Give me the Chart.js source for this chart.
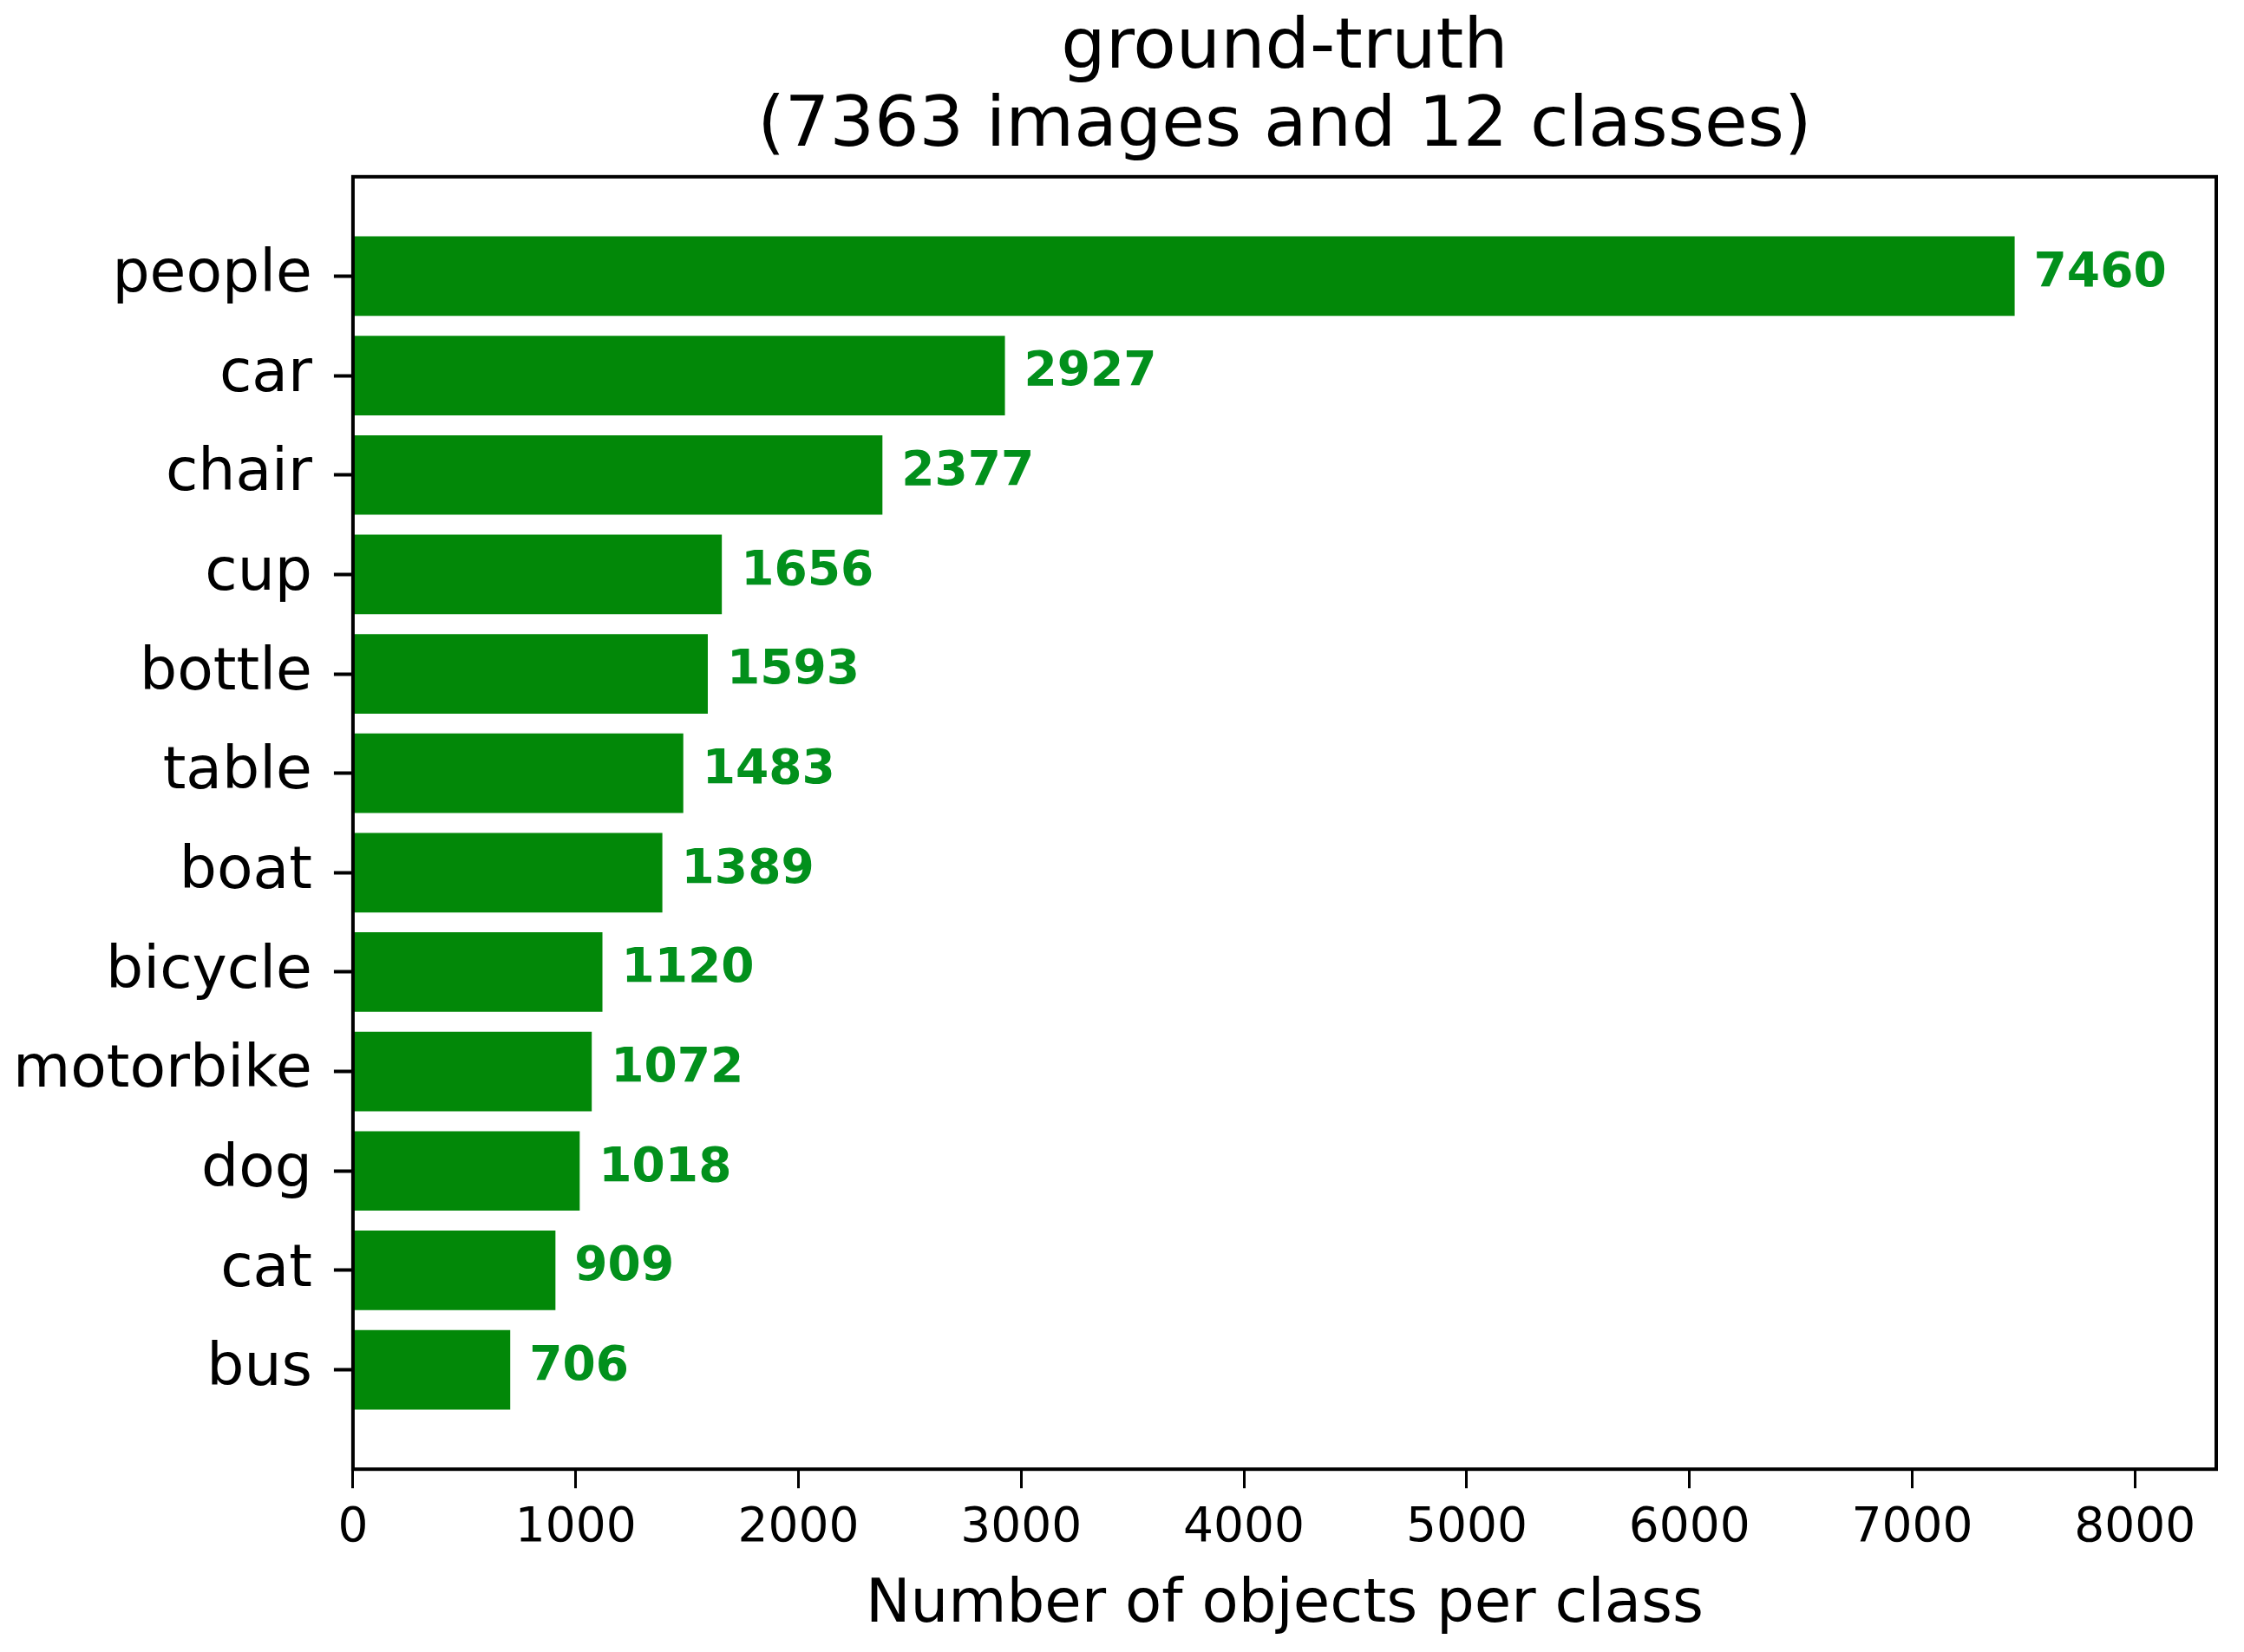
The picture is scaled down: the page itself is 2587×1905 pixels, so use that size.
<!DOCTYPE html>
<html>
<head>
<meta charset="utf-8">
<script src="https://cdn.jsdelivr.net/npm/chart.js@4/dist/chart.umd.min.js"></script>
<style>
  html, body { margin: 0; padding: 0; background: #fff; }
  #wrap { width: 2587px; height: 1905px; }
</style>
</head>
<body>
<div id="wrap"><canvas id="chart"></canvas></div>
<script>
var classes = ["people", "car", "chair", "cup", "bottle", "table", "boat", "bicycle", "motorbike", "dog", "cat", "bus"];
var counts = [7460, 2927, 2377, 1656, 1593, 1483, 1389, 1120, 1072, 1018, 909, 706];
var xTicks = [0, 1000, 2000, 3000, 4000, 5000, 6000, 7000, 8000];
var titleLines = ["ground-truth", "(7363 images and 12 classes)"];
var xTitle = "Number of objects per class";

var barColor = "#028808";
var labelColor = "#02901c";
var font = "'DejaVu Sans', sans-serif";

// one point per class, classes sit at 1..12 on a linear axis
var points = counts.map(function (v, i) { return { x: v, y: i + 1 }; });

// black frame round the plot area, like matplotlib's spines
var framePlugin = {
  id: "frame",
  afterDraw: function (chart) {
    var a = chart.chartArea, ctx = chart.ctx;
    ctx.save();
    ctx.strokeStyle = "#000";
    ctx.lineWidth = 4;
    ctx.strokeRect(a.left, a.top, a.right - a.left, a.bottom - a.top);
    ctx.restore();
  }
};

// value printed after the end of each bar
var valuePlugin = {
  id: "values",
  afterDatasetsDraw: function (chart) {
    var ctx = chart.ctx;
    var meta = chart.getDatasetMeta(0);
    ctx.save();
    ctx.fillStyle = labelColor;
    ctx.font = "bold 55px " + font;
    ctx.textAlign = "left";
    ctx.textBaseline = "middle";
    meta.data.forEach(function (bar, i) {
      ctx.fillText(String(counts[i]), bar.x + 22, bar.y - 3);
    });
    ctx.restore();
  }
};

new Chart(document.getElementById("chart").getContext("2d"), {
  type: "bar",
  data: {
    datasets: [{
      data: points,
      backgroundColor: barColor,
      borderWidth: 0,
      barPercentage: 0.8,
      categoryPercentage: 1.0
    }]
  },
  plugins: [framePlugin, valuePlugin],
  options: {
    indexAxis: "y",
    responsive: true,
    maintainAspectRatio: false,
    animation: false,
    layout: { padding: { left: -10, right: 32, top: 0, bottom: 12 } },
    plugins: {
      legend: { display: false },
      tooltip: { enabled: false },
      title: {
        display: true,
        fullSize: false,
        text: titleLines,
        color: "#000",
        font: { family: font, size: 81, weight: "normal", lineHeight: 1.11 },
        padding: { top: 12, bottom: 12 }
      }
    },
    scales: {
      x: {
        type: "linear",
        min: 0,
        max: 8365,
        afterBuildTicks: function (axis) {
          axis.ticks = xTicks.map(function (v) { return { value: v }; });
        },
        ticks: {
          color: "#000",
          font: { family: font, size: 55 },
          padding: 14,
          maxRotation: 0,
          callback: function (value) { return String(value); }
        },
        grid: {
          drawOnChartArea: false,
          drawTicks: true,
          tickLength: 22,
          tickWidth: 3,
          tickColor: "#000"
        },
        border: { display: false },
        title: {
          display: true,
          text: xTitle,
          color: "#000",
          font: { family: font, size: 69 },
          padding: { top: 0, bottom: 0 }
        }
      },
      y: {
        type: "linear",
        min: 0,
        max: 13,
        reverse: true,
        offset: false,
        afterBuildTicks: function (axis) {
          axis.ticks = classes.map(function (c, i) { return { value: i + 1 }; });
        },
        ticks: {
          color: "#000",
          font: { family: font, size: 68 },
          padding: 25,
          autoSkip: false,
          callback: function (value) { return classes[value - 1]; }
        },
        grid: {
          offset: false,
          drawOnChartArea: false,
          drawTicks: true,
          tickLength: 22,
          tickWidth: 4,
          tickColor: "#000"
        },
        border: { display: false }
      }
    }
  }
});
</script>
</body>
</html>
